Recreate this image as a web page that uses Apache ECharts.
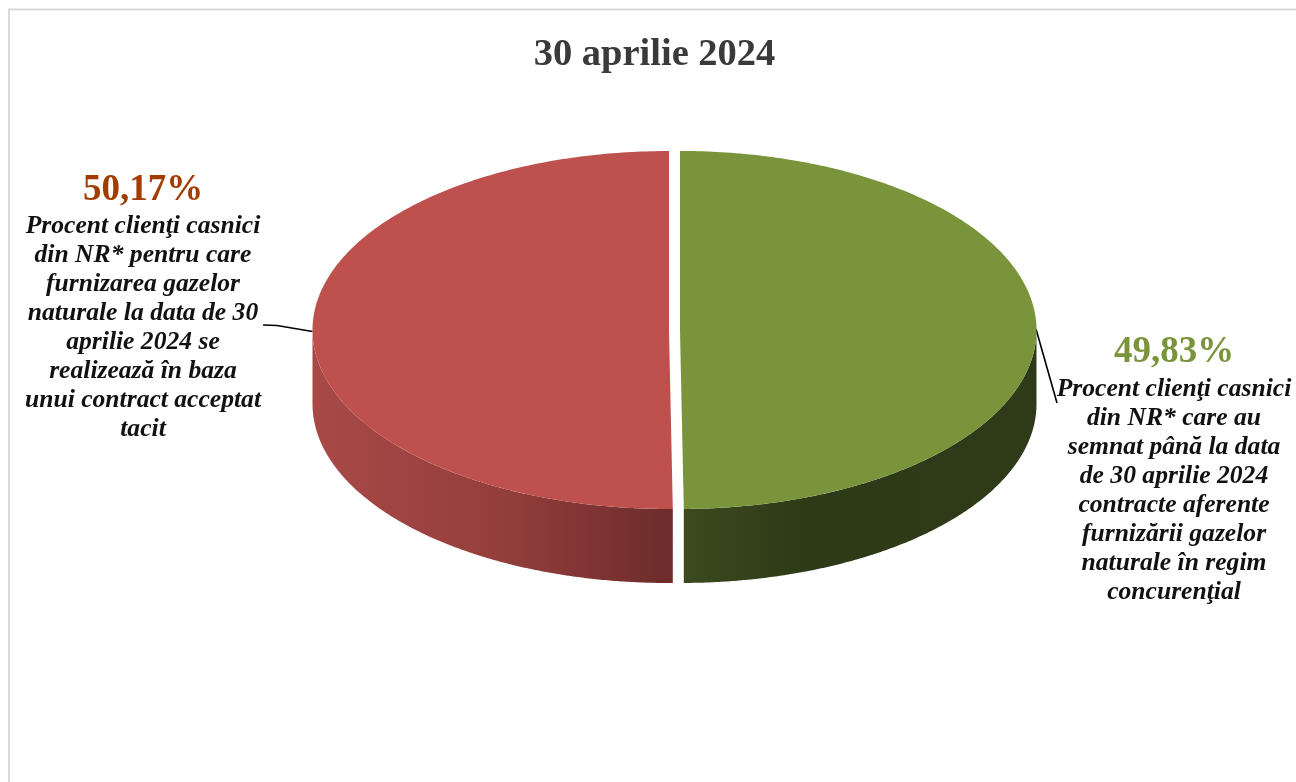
<!DOCTYPE html>
<html>
<head>
<meta charset="utf-8">
<style>html,body{margin:0;padding:0;background:#fff}#chart{width:1296px;height:782px}</style>
<script src="https://cdn.jsdelivr.net/npm/echarts@6/dist/echarts.min.js"></script>
</head>
<body>
<div id="chart"></div>
<script>
var chartTitle = '30 aprilie 2024';
var sliceNames = ['Contracte în regim concurențial', 'Contract acceptat tacit'];
var sliceValues = [49.83, 50.17];
var percentLabels = ['49,83%', '50,17%'];
var descriptionLines = [
  ['Procent clienţi casnici', 'din NR* care au', 'semnat până la data', 'de 30 aprilie 2024', 'contracte aferente', 'furnizării gazelor', 'naturale în regim', 'concurenţial'],
  ['Procent clienţi casnici', 'din NR* pentru care', 'furnizarea gazelor', 'naturale la data de 30', 'aprilie 2024 se', 'realizează în baza', 'unui contract acceptat', 'tacit']
];

// Layout and styling, kept apart from the data
var CX = 674.5, CY = 330, RX = 356.5, RY = 179, DEPTH = 74, EXPLODE = 5.5;
var topColors = ['#7a943b', '#be504e'];
var wallStops = [
  [[0, '#3c4a1e'], [0.35, '#2d3a17'], [1, '#2f3b18']],
  [[0, '#a84947'], [0.5, '#953f3d'], [1, '#6d2b2b']]
];
var percentColors = ['#7a943b', '#a33c00'];
var labelPos = [
  {x: 1174, pctY: 352.5, bodyY: 374.5},
  {x: 143, pctY: 190.5, bodyY: 211.5}
];
var leaderLines = [
  [[1036, 329], [1057, 403]],
  [[312.5, 331.5], [277, 325.5], [263, 325]]
];
var SERIF = '"Liberation Serif", "Times New Roman", serif';

function renderSlice(params, api) {
  var i = params.dataIndex;
  var total = sliceValues.reduce(function (a, b) { return a + b; }, 0);
  var before = sliceValues.slice(0, i).reduce(function (a, b) { return a + b; }, 0);
  var a0 = before / total * Math.PI * 2;
  var a1 = (before + api.value(0)) / total * Math.PI * 2;
  var mid = (a0 + a1) / 2;
  var cx = CX + EXPLODE * Math.sin(mid);
  var cy = CY - EXPLODE * Math.cos(mid) * RY / RX;

  function arc(from, to, dy) {
    var pts = [], n = 240;
    for (var k = 0; k <= n; k++) {
      var t = from + (to - from) * k / n;
      pts.push([cx + RX * Math.sin(t), cy + dy - RY * Math.cos(t)]);
    }
    return pts;
  }

  // Visible wall: the part of the slice between 90 and 270 degrees
  var f0 = Math.max(a0, Math.PI / 2), f1 = Math.min(a1, Math.PI * 1.5);
  var wall = arc(f0, f1, 0).concat(arc(f0, f1, DEPTH).reverse());
  var stops = wallStops[i].map(function (s) { return {offset: s[0], color: s[1]}; });
  var wallFill = new echarts.graphic.LinearGradient(0, 0, 1, 0, stops);
  var top = [[cx, cy]].concat(arc(a0, a1, 0));

  return {
    type: 'group',
    children: [
      {type: 'polyline', shape: {points: leaderLines[i]}, z2: 1,
        style: {stroke: '#000', lineWidth: 1.6, fill: null}},
      {type: 'polygon', shape: {points: wall}, z2: 2, style: {fill: wallFill}},
      {type: 'polygon', shape: {points: top}, z2: 3, style: {fill: topColors[i]}},
      {type: 'text', z2: 4, style: {
        text: percentLabels[i], x: labelPos[i].x, y: labelPos[i].pctY,
        align: 'center', verticalAlign: 'middle',
        font: 'bold 37px ' + SERIF, fill: percentColors[i]}},
      {type: 'text', z2: 4, style: {
        text: descriptionLines[i].join('\n'), x: labelPos[i].x, y: labelPos[i].bodyY,
        align: 'center', verticalAlign: 'top', lineHeight: 29,
        font: 'italic bold 25.6px ' + SERIF, fill: '#111'}}
    ]
  };
}

var chart = echarts.init(document.getElementById('chart'), null, {renderer: 'canvas'});
chart.setOption({
  animation: false,
  backgroundColor: '#ffffff',
  title: {
    text: chartTitle, left: 649.5, top: 31, textAlign: 'center',
    textStyle: {fontFamily: SERIF, fontWeight: 'bold', fontSize: 38.5, color: '#3a3a3a'}
  },
  graphic: [{
    type: 'polyline', silent: true,
    shape: {points: [[9, 782], [9, 9.5], [1296, 9.5]]},
    style: {stroke: '#d9d9d9', lineWidth: 2, fill: null}
  }],
  series: [{
    type: 'custom',
    coordinateSystem: 'none',
    renderItem: renderSlice,
    silent: true,
    data: sliceValues.map(function (v, i) { return {name: sliceNames[i], value: [v]}; })
  }]
});
</script>
</body>
</html>
